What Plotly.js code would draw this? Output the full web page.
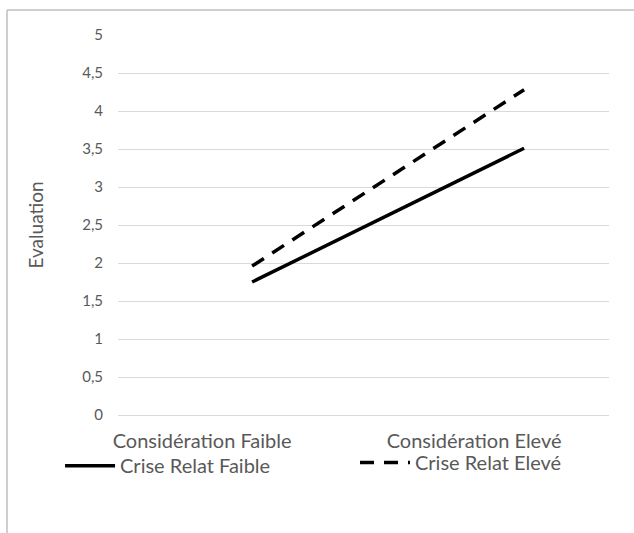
<!DOCTYPE html>
<html>
<head>
<meta charset="utf-8">
<script src="https://cdn.plot.ly/plotly-3.0.1.min.js"></script>
<style>html,body{margin:0;padding:0;background:#fff;}</style>
</head>
<body>
<div id="chart" style="width:634px;height:533px;"></div>
<script>
const categories = ["Considération Faible", "Considération Elevé"];
const seriesNames = ["Crise Relat Faible", "Crise Relat Elevé"];
const criseFaible = [1.75, 3.51];
const criseEleve = [1.96, 4.28];
const yTicks = [0, 0.5, 1, 1.5, 2, 2.5, 3, 3.5, 4, 4.5, 5];

const grey = '#595959';
const fontFam = 'Lato, "Open Sans", sans-serif';

const traces = [
  {x: categories, y: criseFaible, name: seriesNames[0], type: 'scatter', mode: 'lines',
   legend: 'legend', line: {color: '#000', width: 3.5}},
  {x: categories, y: criseEleve, name: seriesNames[1], type: 'scatter', mode: 'lines',
   legend: 'legend2', line: {color: '#000', width: 3.5, dash: '14px,10px'}}
];

const legendCommon = {
  orientation: 'h',
  xanchor: 'left', yanchor: 'top',
  itemwidth: 50,
  font: {size: 20, color: grey, family: fontFam},
  bgcolor: 'rgba(0,0,0,0)'
};

const layout = {
  width: 634, height: 533,
  margin: {l: 118, r: 25, t: 35, b: 118},
  paper_bgcolor: '#fff', plot_bgcolor: '#fff',
  separators: ', ',
  font: {family: fontFam, color: grey},
  showlegend: true,
  xaxis: {
    type: 'category',
    range: [-0.493, 1.312],
    showgrid: false, zeroline: false, showline: false, ticks: '',
    ticklabelshift: -50,
    ticklabelstandoff: 12,
    tickfont: {size: 20, color: grey, family: fontFam},
    fixedrange: true
  },
  yaxis: {
    range: [0, 5],
    tickvals: yTicks,
    showgrid: true, gridcolor: '#d9d9d9', gridwidth: 1,
    zeroline: true, zerolinecolor: '#d9d9d9', zerolinewidth: 1,
    showline: false, ticks: '',
    ticklabelstandoff: 14,
    tickfont: {size: 15, color: grey, family: fontFam},
    title: {text: 'Evaluation', font: {size: 19, color: grey, family: fontFam}, standoff: 33}
  },
  legend: Object.assign({}, legendCommon, {x: -0.118, y: -0.082}),
  legend2: Object.assign({}, legendCommon, {x: 0.4827, y: -0.074}),
  shapes: [
    {type: 'line', xref: 'paper', yref: 'paper', x0: -111/491, x1: 516/491, y0: 405/380, y1: 405/380,
     line: {color: '#bfbfbf', width: 1.5}},
    {type: 'line', xref: 'paper', yref: 'paper', x0: -111/491, x1: -111/491, y0: 405/380, y1: -118/380,
     line: {color: '#bfbfbf', width: 1.5}}
  ]
};

Plotly.newPlot('chart', traces, layout, {displayModeBar: false, staticPlot: true});
</script>
</body>
</html>
